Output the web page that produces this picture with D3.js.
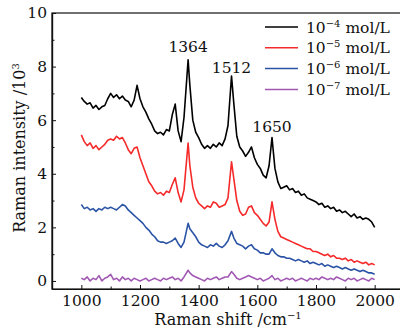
<!DOCTYPE html>
<html>
<head>
<meta charset="utf-8">
<script src="https://cdn.jsdelivr.net/npm/d3@7"></script>
<style>
  html, body { margin: 0; padding: 0; background: #fff; }
  svg { display: block; }
  text { font-family: "DejaVu Serif", "Liberation Serif", serif; fill: #111; }
</style>
</head>
<body>
<div id="chart"></div>
<script>
// Raman shift (cm^-1) sampling points
const shifts = [
  1000, 1010, 1020, 1030, 1040, 1050, 1060, 1070, 1080, 1090,
  1100, 1110, 1120, 1130, 1140, 1150, 1160, 1170, 1180, 1190,
  1200, 1210, 1220, 1230, 1240, 1250, 1260, 1270, 1280, 1290,
  1300, 1310, 1320, 1330, 1340, 1350, 1364, 1370, 1380, 1390,
  1400, 1410, 1420, 1430, 1440, 1450, 1460, 1470, 1480, 1490,
  1500, 1512, 1520, 1530, 1540, 1550, 1560, 1570, 1580, 1590,
  1600, 1610, 1620, 1630, 1640, 1650, 1660, 1670, 1680, 1690,
  1700, 1710, 1720, 1730, 1740, 1750, 1760, 1770, 1780, 1790,
  1800, 1810, 1820, 1830, 1840, 1850, 1860, 1870, 1880, 1890,
  1900, 1910, 1920, 1930, 1940, 1950, 1960, 1970, 1980, 1990, 2000
];

// intensities (x10^3)
const conc4 = [
  6.85, 6.7, 6.6, 6.65, 6.45, 6.55, 6.4, 6.5, 6.55, 6.8,
  7.0, 6.85, 6.95, 6.8, 6.9, 6.75, 6.7, 6.5, 6.75, 7.3,
  6.8, 6.5, 6.3, 6.05, 5.85, 5.6, 5.5, 5.55, 5.45, 5.65,
  5.6, 6.2, 6.6, 5.6, 5.2, 6.1, 8.25, 7.3, 6.0, 5.55,
  5.35, 5.1, 4.95, 5.05, 4.95, 5.1, 5.0, 5.15, 5.05, 5.3,
  5.8, 7.65, 6.6, 5.4, 5.0, 4.85, 4.65, 4.8, 5.0, 4.6,
  4.35, 4.2, 3.95, 3.85, 4.3, 5.35, 4.2, 3.7, 3.45, 3.5,
  3.55, 3.4, 3.45, 3.3, 3.35, 3.2, 3.25, 3.1, 3.05, 3.0,
  2.95, 2.85, 2.9, 2.75, 2.8, 2.7, 2.75, 2.6, 2.65, 2.55,
  2.6, 2.5, 2.4, 2.5, 2.35, 2.4, 2.3, 2.35, 2.3, 2.2, 2.0
];
const conc5 = [
  5.45, 5.2, 5.05, 5.15, 4.95, 5.05, 4.9, 5.0, 5.1, 5.25,
  5.3, 5.25, 5.4, 5.3, 5.35, 5.15, 4.9, 4.75, 4.95, 5.0,
  4.6, 4.3, 4.0, 3.7, 3.55, 3.35, 3.25, 3.3, 3.2, 3.35,
  3.3, 3.6, 3.85, 3.3, 2.95, 3.4, 5.15, 4.3, 3.5, 3.1,
  2.9, 2.8, 2.7, 2.8, 2.75, 2.95, 2.9, 2.75, 2.8, 2.85,
  3.1, 4.45, 3.8, 3.0, 2.6, 2.45, 2.5, 2.75, 2.8, 2.55,
  2.45, 2.3, 2.15, 2.05, 2.2, 2.95, 2.3, 1.85, 1.65, 1.6,
  1.55, 1.5, 1.45, 1.4, 1.35, 1.3, 1.25, 1.2, 1.2, 1.1,
  1.1, 1.05, 1.0, 0.95, 1.0, 0.9, 0.95, 0.85, 0.85, 0.8,
  0.85, 0.75, 0.8, 0.7, 0.75, 0.7, 0.65, 0.7, 0.6, 0.65, 0.6
];
const conc6 = [
  2.85, 2.7, 2.75, 2.65, 2.7, 2.6, 2.7, 2.65, 2.75, 2.7,
  2.75, 2.7, 2.65, 2.75, 2.85, 2.8, 2.65, 2.55, 2.45, 2.35,
  2.25, 2.15, 2.0, 1.9, 1.75, 1.65, 1.5, 1.45, 1.45, 1.4,
  1.45, 1.5, 1.6, 1.4, 1.25, 1.45, 2.15, 1.95, 1.8, 1.65,
  1.45, 1.35, 1.3, 1.25, 1.35, 1.3, 1.4, 1.3, 1.25, 1.35,
  1.5, 1.85, 1.6, 1.4, 1.35, 1.3, 1.2, 1.3, 1.35, 1.2,
  1.15, 1.05, 1.05, 1.0, 1.0, 1.2, 1.05, 0.95, 0.9, 0.9,
  0.85, 0.85, 0.8, 0.75, 0.8, 0.75, 0.7, 0.75, 0.65, 0.7,
  0.65, 0.6, 0.65, 0.55, 0.6, 0.55, 0.5, 0.55, 0.5, 0.45,
  0.5, 0.45, 0.4, 0.45, 0.4, 0.35, 0.4, 0.35, 0.3, 0.3, 0.25
];
const conc7 = [
  0.1, 0.05, 0.15, 0.0, 0.1, 0.05, 0.2, 0.0, 0.1, 0.15,
  0.25, 0.05, 0.1, 0.0, 0.15, 0.05, 0.1, 0.0, 0.1, 0.05,
  0.0, 0.05, 0.1, 0.0, 0.05, 0.1, 0.05, 0.0, 0.1, 0.05,
  0.1, 0.15, 0.05, 0.1, 0.0, 0.15, 0.4, 0.3, 0.2, 0.15,
  0.1, 0.05, 0.0, 0.1, 0.05, 0.1, 0.15, 0.05, 0.1, 0.15,
  0.15, 0.35, 0.25, 0.1, 0.05, 0.1, 0.15, 0.2, 0.15, 0.1,
  0.05, 0.1, 0.0, 0.05, 0.1, 0.2, 0.05, 0.1, 0.0, 0.05,
  0.1, 0.05, 0.1, 0.0, 0.05, 0.1, 0.05, 0.0, 0.1, 0.05,
  0.1, 0.05, 0.15, 0.1, 0.05, 0.1, 0.05, 0.15, 0.1, 0.05,
  0.0, 0.1, 0.05, 0.1, 0.0, 0.05, 0.1, 0.05, 0.0, 0.1, 0.05
];

const seriesExp = ['4', '5', '6', '7'];
const seriesColors = ['#000000', '#f52a2a', '#2b54a6', '#a158b3'];
const seriesValues = [conc4, conc5, conc6, conc7];

const peakShifts = [1364, 1512, 1650];
const peakLabelY = [8.55, 7.75, 5.55];

const xTicks = [1000, 1200, 1400, 1600, 1800, 2000];
const xMinorTicks = [1100, 1300, 1500, 1700, 1900];
const yTicks = [0, 2, 4, 6, 8, 10];
const yMinorTicks = [1, 3, 5, 7, 9];

const W = 400, H = 331;
const margin = { top: 13, left: 52, bottom: 42 };
const plotRight = 404;

const svg = d3.select('#chart').append('svg')
  .attr('width', W)
  .attr('height', H);

const x = d3.scaleLinear().domain([900, 2100]).range([margin.left, plotRight]);
const y = d3.scaleLinear().domain([-0.3, 10]).range([H - margin.bottom, margin.top]);

// frame (right edge falls outside the picture)
svg.append('rect')
  .attr('x', margin.left)
  .attr('y', margin.top)
  .attr('width', plotRight - margin.left)
  .attr('height', y(-0.3) - margin.top)
  .attr('fill', 'none')
  .attr('stroke', '#111')
  .attr('stroke-width', 1.2);

// axes, ticks pointing inward
const xAxis = d3.axisBottom(x).tickValues(xTicks).tickFormat(d3.format('d'))
  .tickSize(-4).tickSizeOuter(0).tickPadding(6);
const xMinor = d3.axisBottom(x).tickValues(xMinorTicks).tickSize(-2.5).tickSizeOuter(0).tickFormat('');
const yAxis = d3.axisLeft(y).tickValues(yTicks).tickSize(-4).tickSizeOuter(0).tickPadding(5);
const yMinor = d3.axisLeft(y).tickValues(yMinorTicks).tickSize(-2.5).tickSizeOuter(0).tickFormat('');

const gx = svg.append('g').attr('transform', `translate(0,${y(-0.3)})`).call(xAxis);
svg.append('g').attr('transform', `translate(0,${y(-0.3)})`).call(xMinor);
const gy = svg.append('g').attr('transform', `translate(${margin.left},0)`).call(yAxis);
svg.append('g').attr('transform', `translate(${margin.left},0)`).call(yMinor);

svg.selectAll('.domain').attr('stroke', '#111').attr('stroke-width', 1.2);
svg.selectAll('.tick line').attr('stroke', '#111');
gx.selectAll('text').style('font-size', '15.5px').style('font-family', '"DejaVu Serif", serif').attr('fill', '#111');
gy.selectAll('text').style('font-size', '15.5px').style('font-family', '"DejaVu Serif", serif').attr('fill', '#111');

// spectra
const line = d3.line()
  .x((d, i) => x(shifts[i]))
  .y(d => y(d));

svg.append('g')
  .selectAll('path')
  .data(seriesValues)
  .join('path')
  .attr('fill', 'none')
  .attr('stroke', (d, i) => seriesColors[i])
  .attr('stroke-width', 1.6)
  .attr('stroke-linejoin', 'round')
  .attr('d', line);

// peak labels
svg.append('g')
  .selectAll('text')
  .data(peakShifts)
  .join('text')
  .attr('x', d => x(d))
  .attr('y', (d, i) => y(peakLabelY[i]))
  .attr('text-anchor', 'middle')
  .style('font-size', '15.5px')
  .text(d => d);

// legend
const legend = svg.append('g');
const rows = legend.selectAll('g')
  .data(seriesExp)
  .join('g')
  .attr('transform', (d, i) => `translate(265,${27 + i * 20.8})`);

rows.append('line')
  .attr('x1', 0).attr('x2', 33)
  .attr('stroke', (d, i) => seriesColors[i])
  .attr('stroke-width', 1.5);

const lt = rows.append('text')
  .attr('x', 41)
  .attr('y', 5.5)
  .style('font-size', '15.5px');
lt.append('tspan').text('10');
lt.append('tspan').attr('dy', -6).style('font-size', '10px').text(d => '\u2212' + d);
lt.append('tspan').attr('dy', 6).text(' mol/L');

// axis titles
const xt = svg.append('text')
  .attr('x', 228)
  .attr('y', 325)
  .attr('text-anchor', 'middle')
  .style('font-size', '16px');
xt.append('tspan').text('Raman shift /cm');
xt.append('tspan').attr('dy', -6).style('font-size', '10px').text('\u22121');

const yt = svg.append('text')
  .attr('transform', 'translate(25,148) rotate(-90)')
  .attr('text-anchor', 'middle')
  .style('font-size', '16px');
yt.append('tspan').text('Raman intensity /10');
yt.append('tspan').attr('dy', -6).style('font-size', '10px').text('3');
</script>
</body>
</html>
